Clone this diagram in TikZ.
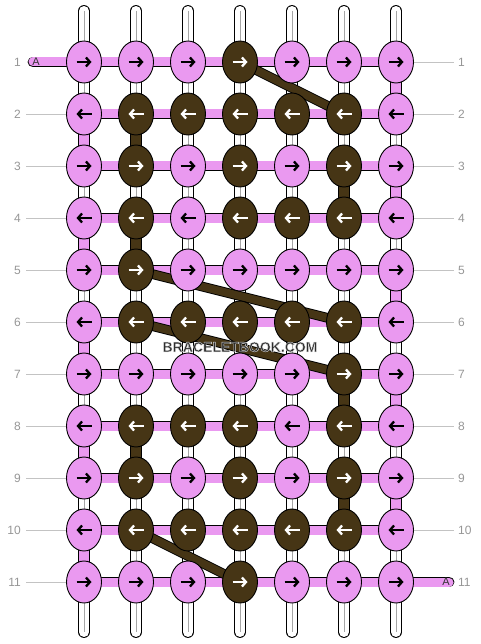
\documentclass[tikz,border=0pt]{standalone}
\usepackage{fontspec}
\setmainfont{Liberation Sans}
\usetikzlibrary{shapes.geometric, arrows.meta}

\definecolor{knotpink}{RGB}{234,153,240}
\definecolor{knotbrown}{RGB}{70,53,21}
\definecolor{numgray}{RGB}{150,150,150}
\definecolor{guidegray}{RGB}{195,195,195}
\definecolor{markgray}{RGB}{45,45,45}

\pgfdeclarelayer{strands}
\pgfdeclarelayer{floats}
\pgfdeclarelayer{front}
\pgfsetlayers{strands,floats,main,front}

% outlined text (fill dark, thin light stroke)
\newcommand{\haloed}[1]{\special{pdf:literal direct 0.85 0.85 0.85 RG 0.4 w 2 Tr}#1\special{pdf:literal direct 0 Tr}}

\tikzstyle{knot} = [ellipse, minimum width=35pt, minimum height=42pt, inner sep=0pt, draw=black, line width=0.9pt]
\tikzstyle{pknot} = [knot, fill=knotpink]
\tikzstyle{bknot} = [knot, fill=knotbrown]
\tikzstyle{warp} = [draw=black, line width=0.9pt, double=white, double distance=10pt, line cap=round]
\tikzstyle{warpline} = [draw=black!35, line width=0.7pt]
\tikzstyle{weft} = [draw=black, line width=0.9pt, double=knotpink, double distance=9pt, line cap=round]
\tikzstyle{pinkturn} = [draw=black, line width=0.9pt, double=knotpink, double distance=10pt]
\tikzstyle{browndown} = [draw=black, line width=0.9pt, double=knotbrown, double distance=10pt]
\tikzstyle{floatband} = [draw=black, line width=0.9pt, double=knotbrown, double distance=8pt]
\tikzstyle{guide} = [draw=guidegray, line width=0.8pt]
\tikzstyle{rownum} = [text=numgray, inner sep=0pt, font=\fontsize{12}{14}\selectfont]
\tikzstyle{knotarrow} = [line width=2.3pt, -{Straight Barb[length=4pt, width=9pt]}]
\tikzstyle{markfont} = [font=\bfseries\fontsize{14}{16}\selectfont, inner sep=0pt]

\begin{document}
\begin{tikzpicture}[x=1pt, y=-1pt]
\useasboundingbox (0,0) rectangle (480,644);

% knots, row by row (1 = brown)
\foreach \r/\pat in {1/{0,0,0,1,0,0,0}, 2/{0,1,1,1,1,1,0}, 3/{0,1,0,1,0,1,0},
    4/{0,1,0,1,1,1,0}, 5/{0,1,0,0,0,0,0}, 6/{0,1,1,1,1,1,0}, 7/{0,0,0,0,0,1,0},
    8/{0,1,1,1,0,1,0}, 9/{0,1,0,1,0,1,0}, 10/{0,1,1,1,1,1,0}, 11/{0,0,0,1,0,0,0}} {
  \pgfmathsetmacro\y{62+52*(\r-1)}
  \ifodd\r \def\ax{-7.5}\def\bx{7.5}\else \def\ax{7.5}\def\bx{-7.5}\fi
  \foreach \k [count=\c] in \pat {
    \pgfmathsetmacro\x{84+52*(\c-1)}
    \ifnum\k=1
      \node[bknot] (k-\r-\c) at (\x,\y) {};
      \def\acol{white}
    \else
      \node[pknot] (k-\r-\c) at (\x,\y) {};
      \def\acol{black}
    \fi
    \draw[knotarrow, draw=\acol] ([xshift=\ax pt]k-\r-\c.center) -- ([xshift=\bx pt]k-\r-\c.center);
  }
  \node[rownum, anchor=east] (ln-\r) at (21,\y) {\r};
  \node[rownum, anchor=west] (rn-\r) at (458,\y) {\r};
}

\begin{pgfonlayer}{strands}
\foreach \c in {1,...,7} {
  \pgfmathsetmacro\x{84+52*(\c-1)}
  \coordinate (top-\c) at (\x,11);
  \coordinate (bot-\c) at (\x,632);
  \draw[warp] (top-\c) -- (bot-\c);
  \draw[warpline] (top-\c) -- (bot-\c);
}
\foreach \r/\c in {1/7, 2/1, 3/7, 4/1, 5/7, 6/1, 7/7, 8/1, 9/7, 10/1} {
  \pgfmathtruncatemacro\n{\r+1}
  \draw[pinkturn] (k-\r-\c.center) -- (k-\n-\c.center);
}
\foreach \r/\c in {2/2, 3/6, 4/2, 7/6, 8/2, 9/6} {
  \pgfmathtruncatemacro\n{\r+1}
  \draw[browndown] (k-\r-\c.center) -- (k-\n-\c.center);
}
\foreach \r in {1,...,11}
  \draw[weft] (k-\r-1.center) -- (k-\r-7.center);
\coordinate (startA) at (33,62);
\coordinate (endA) at (449,582);
\draw[weft] (startA) -- (k-1-1.center);
\draw[weft] (k-11-7.center) -- (endA);
\node[font=\fontsize{11}{12}\selectfont, text=black!80] (labA) at (36,62) {A};
\node[font=\fontsize{11}{12}\selectfont, text=black!80] (labB) at (446,582) {A};
\end{pgfonlayer}

\begin{pgfonlayer}{floats}
\foreach \a/\b in {1-4/2-6, 5-2/6-6, 6-2/7-6, 10-2/11-4}
  \draw[floatband] (k-\a.center) -- (k-\b.center);
\end{pgfonlayer}

\foreach \r in {2,...,11}
  \draw[guide] (k-\r-1.west) -- ([xshift=5pt]ln-\r.east);
\foreach \r in {1,...,10}
  \draw[guide] (k-\r-7.east) -- ([xshift=-4pt]rn-\r.west);

\begin{pgfonlayer}{front}
\node[markfont, text=markgray] (mark) at (240,347) {\haloed{BRACELETBOOK.COM}};
\end{pgfonlayer}
\end{tikzpicture}
\end{document}
